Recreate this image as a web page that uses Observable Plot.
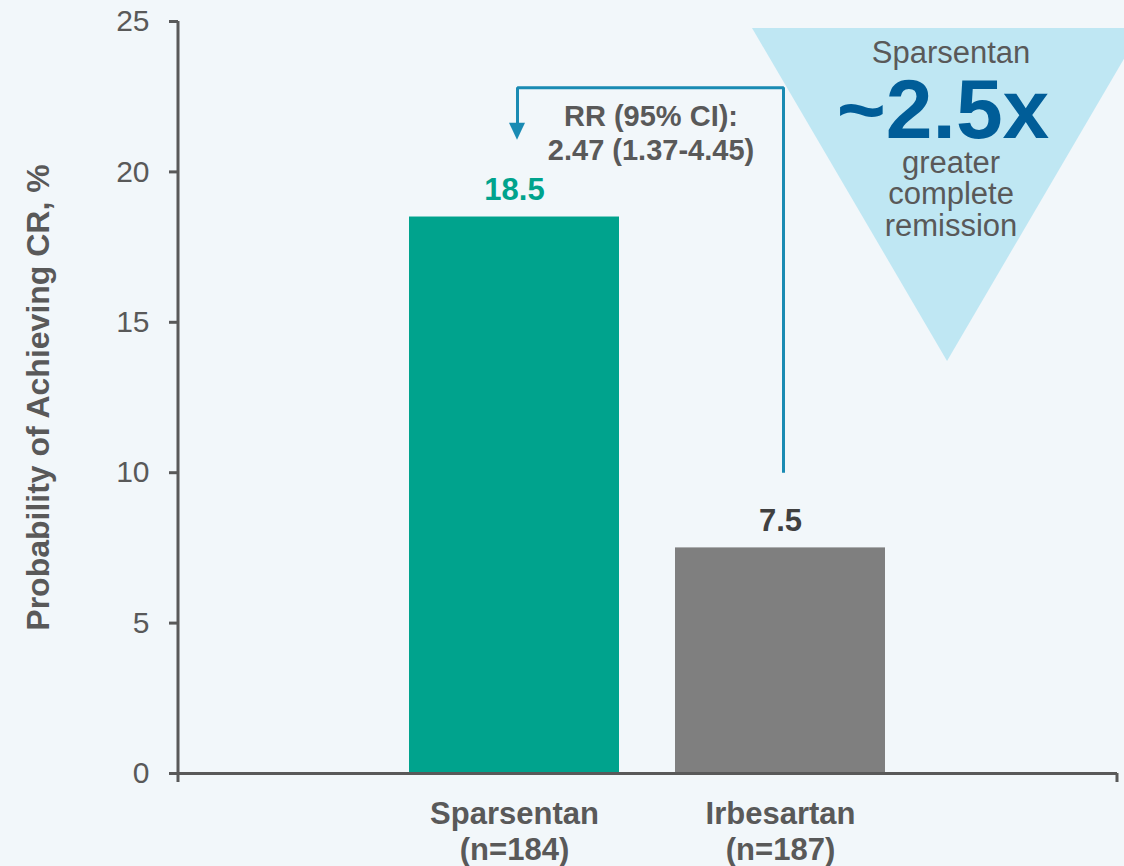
<!DOCTYPE html>
<html>
<head>
<meta charset="utf-8">
<script src="https://cdn.jsdelivr.net/npm/d3@7"></script>
<script src="https://cdn.jsdelivr.net/npm/@observablehq/plot@0.6"></script>
<style>
  html, body { margin: 0; padding: 0; background: #f2f7fa; }
  #chart svg { display: block; }
  #chart [aria-label^="y-axis"] line,
  #chart [aria-label^="y-axis"] path { stroke-width: 3px; }
</style>
</head>
<body>
<div id="chart"></div>
<script>
// ---- data ----
const categories = ["Sparsentan", "Irbesartan"];
const sampleSizes = ["(n=184)", "(n=187)"];
const probabilities = [18.5, 7.5];
const yTicks = [0, 5, 10, 15, 20, 25];
const yLabel = "Probability of Achieving CR, %";
const rrLines = ["RR (95% CI):", "2.47 (1.37-4.45)"];
const calloutLines = ["Sparsentan", "~2.5x", "greater", "complete", "remission"];

// ---- styles ----
const barColors = ["#00a38d", "#7f7f7f"];
const valueColors = ["#00a38d", "#404040"];
const axisColor = "#595959";
const bracketColor = "#1a8bb3";
const calloutFill = "#bfe7f3";
const calloutBig = "#005d98";
const FONT = "'Liberation Sans', Arial, Helvetica, sans-serif";

const data = categories.map((c, i) => ({category: c, n: sampleSizes[i], value: probabilities[i]}));

// bracket from Irbesartan bar (at y=10) up to top, across to Sparsentan, down to arrow
const bracketTop = 22.8, bracketStart = 10, bracketEnd = 21.55;
const bracket = [
  {category: categories[1], value: bracketStart},
  {category: categories[1], value: bracketTop},
  {category: categories[0], value: bracketTop},
  {category: categories[0], value: bracketEnd}
];

function annotations(index, scales, values, dimensions) {
  const x = scales.x, y = scales.y;
  const bw = x.bandwidth ? x.bandwidth() : 0;
  const cx = c => x(c) + bw / 2;
  const {width, marginLeft, marginRight} = dimensions;
  const left = marginLeft, right = width - marginRight;
  const fw = right - left;
  const g = d3.create("svg:g");

  // y-axis line
  g.append("line").attr("x1", left).attr("x2", left)
    .attr("y1", y(25)).attr("y2", y(0))
    .attr("stroke", axisColor).attr("stroke-width", 3);
  // x-axis end ticks
  for (const xx of [left, right]) {
    g.append("line").attr("x1", xx).attr("x2", xx)
      .attr("y1", y(0)).attr("y2", y(0) + 9)
      .attr("stroke", axisColor).attr("stroke-width", 3);
  }

  // callout triangle
  const apexX = left + 0.819 * fw, half = 0.2077 * fw;
  const topY = y(24.77), apexY = y(13.7);
  g.append("path")
    .attr("d", `M${apexX - half},${topY}L${apexX + half},${topY}L${apexX},${apexY}Z`)
    .attr("fill", calloutFill);
  const tx = apexX + 4;
  const t = g.append("g").attr("text-anchor", "middle").attr("font-family", FONT);
  t.append("text").attr("x", tx).attr("y", topY + 35).attr("font-size", 31).attr("fill", axisColor).text(calloutLines[0]);
  t.append("text").attr("x", tx - 8).attr("y", topY + 110).attr("font-size", 84).attr("font-weight", "bold").attr("fill", calloutBig).text(calloutLines[1]);
  calloutLines.slice(2).forEach((s, i) => {
    t.append("text").attr("x", tx).attr("y", topY + 145 + i * 31.5).attr("font-size", 31).attr("fill", axisColor).text(s);
  });

  // arrowhead
  const ax = cx(categories[0]) + 3, ay = y(bracketEnd);
  g.append("path")
    .attr("d", `M${ax - 8},${ay - 2}L${ax + 8},${ay - 2}L${ax},${ay + 15}Z`)
    .attr("fill", bracketColor);

  // RR text
  const rx = (cx(categories[0]) + cx(categories[1])) / 2 + 4;
  const ry = y(bracketTop);
  const r = g.append("g").attr("text-anchor", "middle").attr("font-family", FONT)
    .attr("font-weight", "bold").attr("font-size", 29).attr("fill", axisColor);
  rrLines.forEach((s, i) => r.append("text").attr("x", rx).attr("y", ry + 39 + i * 34).text(s));

  return g.node();
}

const chart = Plot.plot({
  width: 1124,
  height: 866,
  marginLeft: 178,
  marginRight: 7,
  marginTop: 21,
  marginBottom: 93,
  style: {background: "#f2f7fa", color: axisColor, fontFamily: FONT, fontSize: "30px", overflow: "visible"},
  x: {domain: categories, paddingInner: 0.21, paddingOuter: 0.87, axis: null},
  y: {domain: [0, 25], ticks: yTicks, tickSize: 9, tickPadding: 20, label: null},
  color: {domain: categories, range: barColors},
  marks: [
    Plot.barY(data, {x: "category", y: "value", fill: "category"}),
    Plot.ruleY([0], {stroke: axisColor, strokeWidth: 3}),
    ...data.map((d, i) => Plot.text([d], {
      x: "category", y: "value", text: d => d.value.toFixed(1),
      dy: -17, lineAnchor: "bottom", fontWeight: "bold", fontSize: 31, fill: valueColors[i]
    })),
    Plot.text(data, {
      x: "category", frameAnchor: "bottom", text: d => d.category + "\n" + d.n,
      lineAnchor: "top", dy: 25, lineHeight: 1.16, fontWeight: "bold", fontSize: 31, fill: axisColor
    }),
    Plot.text([yLabel], {
      frameAnchor: "left", text: d => d, rotate: -90, dx: -140, textAnchor: "middle",
      fontWeight: "bold", fontSize: 32, fill: axisColor, lineAnchor: "middle"
    }),
    Plot.line(bracket, {x: "category", y: "value", dx: 3, stroke: bracketColor, strokeWidth: 3, strokeLinejoin: "miter", strokeLinecap: "butt"}),
    annotations
  ]
});

document.getElementById("chart").appendChild(chart);
</script>
</body>
</html>
